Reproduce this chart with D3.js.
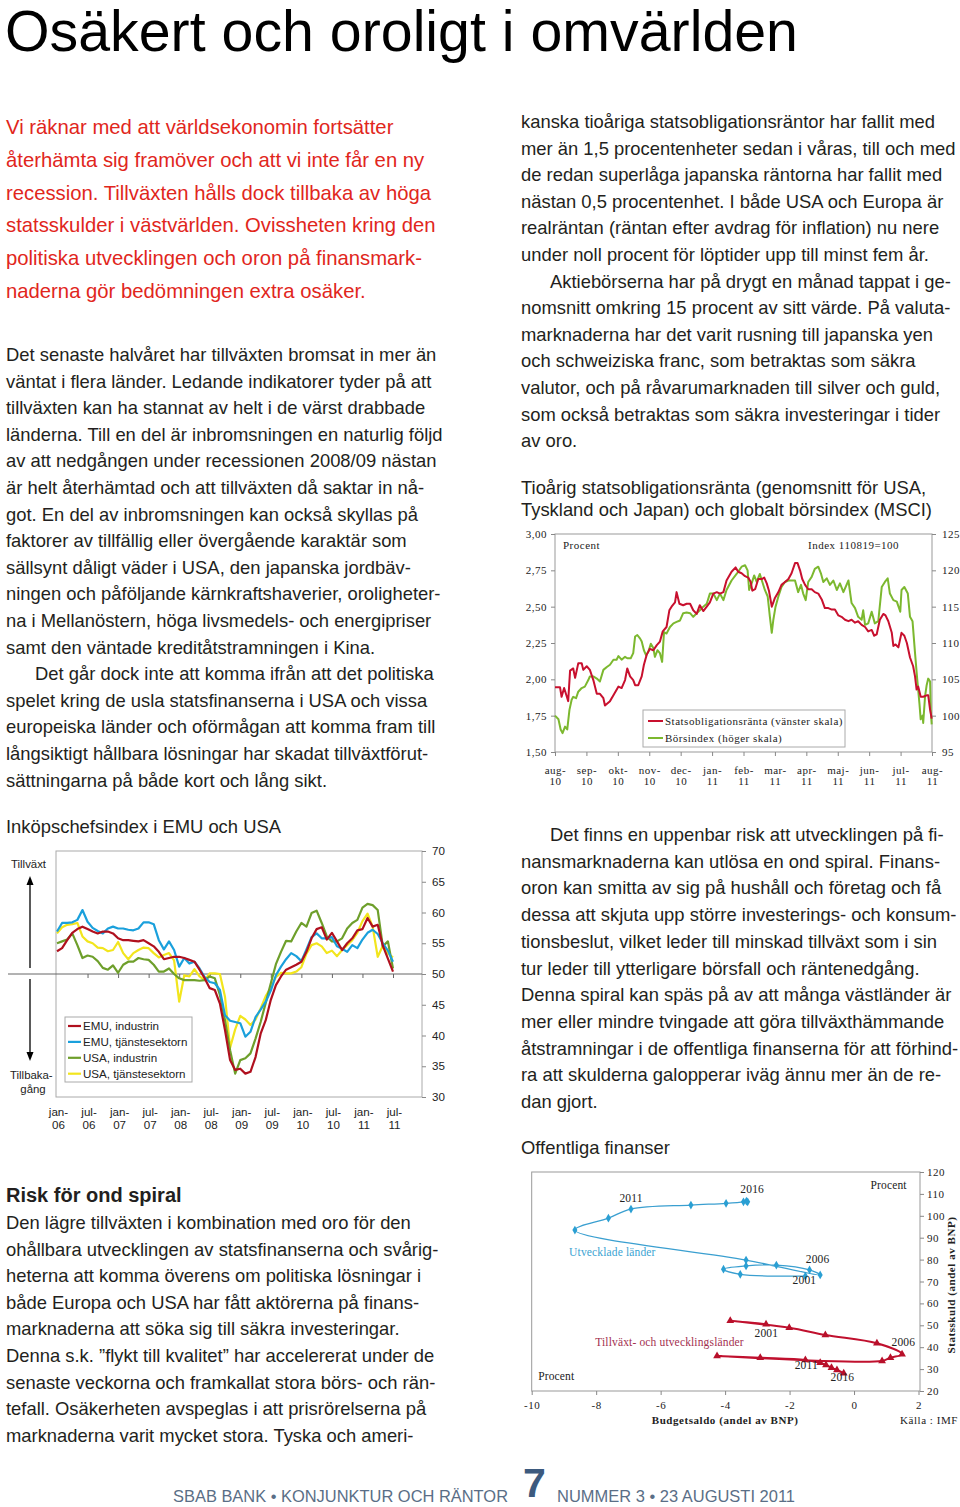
<!DOCTYPE html>
<html><head><meta charset="utf-8">
<script src="https://cdn.jsdelivr.net/npm/d3@7"></script>
<style>body{margin:0;background:#fff}svg{display:block}</style>
</head><body><svg id="c" width="960" height="1507"></svg>
<script>
// ---------------- TEXT ----------------
const pageTitle = "Osäkert och oroligt i omvärlden";
const introLines = [
"Vi räknar med att världsekonomin fortsätter",
"återhämta sig framöver och att vi inte får en ny",
"recession. Tillväxten hålls dock tillbaka av höga",
"statsskulder i västvärlden. Ovissheten kring den",
"politiska utvecklingen och oron på finansmark-",
"naderna gör bedömningen extra osäker."];
const bodyLeft1 = [
"Det senaste halvåret har tillväxten bromsat in mer än",
"väntat i flera länder. Ledande indikatorer tyder på att",
"tillväxten kan ha stannat av helt i de värst drabbade",
"länderna. Till en del är inbromsningen en naturlig följd",
"av att nedgången under recessionen 2008/09 nästan",
"är helt återhämtad och att tillväxten då saktar in nå-",
"got. En del av inbromsningen kan också skyllas på",
"faktorer av tillfällig eller övergående karaktär som",
"sällsynt dåligt väder i USA, den japanska jordbäv-",
"ningen och påföljande kärnkraftshaverier, oroligheter-",
"na i Mellanöstern, höga livsmedels- och energipriser",
"samt den väntade kreditåtstramningen i Kina.",
"\tDet går dock inte att komma ifrån att det politiska",
"spelet kring de usla statsfinanserna i USA och vissa",
"europeiska länder och oförmågan att komma fram till",
"långsiktigt hållbara lösningar har skadat tillväxtförut-",
"sättningarna på både kort och lång sikt."];
const bodyRight1 = [
"kanska tioåriga statsobligationsräntor har fallit med",
"mer än 1,5 procentenheter sedan i våras, till och med",
"de redan superlåga japanska räntorna har fallit med",
"nästan 0,5 procentenhet. I både USA och Europa är",
"realräntan (räntan efter avdrag för inflation) nu nere",
"under noll procent för löptider upp till minst fem år.",
"\tAktiebörserna har på drygt en månad tappat i ge-",
"nomsnitt omkring 15 procent av sitt värde. På valuta-",
"marknaderna har det varit rusning till japanska yen",
"och schweiziska franc, som betraktas som säkra",
"valutor, och på råvarumarknaden till silver och guld,",
"som också betraktas som säkra investeringar i tider",
"av oro."];
const bodyRight2 = [
"\tDet finns en uppenbar risk att utvecklingen på fi-",
"nansmarknaderna kan utlösa en ond spiral. Finans-",
"oron kan smitta av sig på hushåll och företag och få",
"dessa att skjuta upp större investerings- och konsum-",
"tionsbeslut, vilket leder till minskad tillväxt som i sin",
"tur leder till ytterligare börsfall och räntenedgång.",
"Denna spiral kan späs på av att många västländer är",
"mer eller mindre tvingade att göra tillväxthämmande",
"åtstramningar i de offentliga finanserna för att förhind-",
"ra att skulderna galopperar iväg ännu mer än de re-",
"dan gjort."];
const riskHeading = "Risk för ond spiral";
const bodyLeft2 = [
"Den lägre tillväxten i kombination med oro för den",
"ohållbara utvecklingen av statsfinanserna och svårig-",
"heterna att komma överens om politiska lösningar i",
"både Europa och USA har fått aktörerna på finans-",
"marknaderna att söka sig till säkra investeringar.",
"Denna s.k. ”flykt till kvalitet” har accelererat under de",
"senaste veckorna och framkallat stora börs- och rän-",
"tefall. Osäkerheten avspeglas i att prisrörelserna på",
"marknaderna varit mycket stora. Tyska och ameri-"];
const footerLeft = "SBAB BANK • KONJUNKTUR OCH RÄNTOR";
const footerNum = "7";
const footerRight = "NUMMER 3 • 23 AUGUSTI 2011";

// ---------------- CHART 1 DATA (months since aug-10) ----------------
const c1Title = ["Tioårig statsobligationsränta (genomsnitt för USA,", "Tyskland och Japan) och globalt börsindex (MSCI)"];
const c1MonthLabels = ["aug-10","sep-10","okt-10","nov-10","dec-10","jan-11","feb-11","mar-11","apr-11","maj-11","jun-11","jul-11","aug-11"];
const c1LeftTicks = [1.5,1.75,2,2.25,2.5,2.75,3];
const c1RightTicks = [95,100,105,110,115,120,125];
const c1Legend = ["Statsobligationsränta (vänster skala)","Börsindex (höger skala)"];
const rateT = [0,0.16,0.21,0.29,0.37,0.42,0.48,0.58,0.64,0.74,0.85,0.90,1.01,1.11,1.22,1.33,1.43,1.54,1.59,1.75,1.86,2.02,2.12,2.23,2.30,2.39,2.49,2.55,2.65,2.76,2.83,2.92,3.02,3.13,3.24,3.34,3.43,3.55,3.64,3.71,3.82,3.87,3.96,4.08,4.19,4.30,4.40,4.51,4.61,4.72,4.83,4.93,5.04,5.15,5.25,5.36,5.46,5.62,5.75,5.83,5.94,6.05,6.15,6.23,6.28,6.37,6.47,6.58,6.66,6.74,6.81,6.90,6.95,7.00,7.11,7.21,7.32,7.43,7.53,7.64,7.72,7.80,7.87,7.96,8.06,8.17,8.27,8.38,8.49,8.59,8.70,8.81,8.91,9.02,9.12,9.23,9.34,9.44,9.55,9.65,9.76,9.87,9.97,10.08,10.16,10.24,10.34,10.45,10.52,10.61,10.72,10.77,10.84,10.93,11.03,11.12,11.20,11.30,11.40,11.46,11.51,11.56,11.64,11.72,11.83,11.88,11.94,11.99];
const rateV = [1.945,1.945,1.88,1.94,1.885,1.85,2.06,2.075,2.01,2.11,2.11,2.065,2.09,2.065,1.995,1.90,1.90,1.87,1.82,1.85,1.89,1.95,1.94,1.995,2.075,2.02,1.995,1.96,1.96,2.02,2.10,2.17,2.21,2.20,2.235,2.26,2.33,2.36,2.475,2.50,2.53,2.60,2.52,2.51,2.52,2.52,2.475,2.45,2.51,2.47,2.50,2.53,2.59,2.60,2.59,2.60,2.68,2.74,2.77,2.74,2.73,2.71,2.70,2.67,2.61,2.62,2.69,2.69,2.70,2.66,2.61,2.50,2.53,2.56,2.60,2.65,2.67,2.69,2.73,2.80,2.80,2.75,2.69,2.65,2.62,2.62,2.60,2.59,2.55,2.49,2.49,2.48,2.48,2.44,2.43,2.41,2.40,2.41,2.39,2.40,2.375,2.36,2.33,2.34,2.30,2.31,2.41,2.45,2.44,2.40,2.32,2.23,2.24,2.22,2.32,2.30,2.25,2.15,2.09,2.02,1.93,1.95,1.88,1.88,1.89,1.89,1.79,1.73];
const msciT = [0,0.11,0.18,0.24,0.32,0.39,0.46,0.53,0.58,0.67,0.74,0.85,0.95,1.06,1.11,1.22,1.33,1.43,1.54,1.65,1.75,1.86,1.96,2.02,2.12,2.23,2.30,2.41,2.49,2.55,2.62,2.71,2.76,2.83,2.90,2.97,3.05,3.13,3.18,3.26,3.34,3.41,3.47,3.55,3.66,3.77,3.87,3.98,4.08,4.19,4.30,4.40,4.51,4.61,4.72,4.83,4.93,5.04,5.15,5.25,5.36,5.46,5.62,5.78,5.94,6.05,6.13,6.18,6.26,6.34,6.42,6.52,6.60,6.68,6.77,6.84,6.90,6.95,7.02,7.11,7.21,7.32,7.43,7.53,7.64,7.74,7.83,7.90,7.98,8.06,8.17,8.27,8.38,8.47,8.54,8.65,8.75,8.86,8.97,9.07,9.18,9.34,9.44,9.55,9.65,9.76,9.81,9.87,9.97,10.08,10.18,10.29,10.40,10.50,10.59,10.66,10.77,10.88,10.99,11.03,11.12,11.23,11.30,11.38,11.46,11.53,11.60,11.64,11.70,11.72,11.78,11.83,11.88,11.94,11.96,11.99];
const msciV = [100,99.5,98.1,97.6,98.5,98.1,100.8,102.2,102.6,102.4,103.3,103.8,104.0,104.9,105.4,105.4,105.1,104.7,106.3,106.7,107.0,107.7,107.7,108.2,107.7,108.1,107.9,107.9,108.6,110.9,111.1,110.6,110.2,109.0,108.3,108.8,109.9,109.3,108.1,109.0,108.6,107.4,111.5,111.3,112.2,112.7,112.9,113.1,114.1,114.2,114.1,113.6,114.1,114.5,115.0,115.4,116.8,116.8,115.9,116.8,115.9,117.3,118.6,119.5,120.5,120.7,120.0,117.3,118.2,119.3,118.4,119.5,118.4,117.3,116.4,113.6,111.4,113.2,115.0,116.4,117.7,118.4,118.6,118.6,118.6,117.0,118.0,116.8,115.9,118.4,119.1,120.2,120.5,119.5,118.4,118.9,118.0,118.6,117.3,118.2,117.0,118.6,115.5,114.8,113.6,113.2,114.5,112.5,112.7,114.3,112.7,113.0,117.7,118.4,118.9,116.8,115.9,115.7,114.3,117.3,117.7,116.8,113.6,113.0,108.6,105.0,101.7,99.5,100.0,99.0,102.7,104.2,105.1,104.7,100.8,98.8];

// ---------------- CHART 2 DATA (monthly, jan-06 .. jul-11) ----------------
const c2Title = "Inköpschefsindex i EMU och USA";
const c2Labels = ["jan-06","jul-06","jan-07","jul-07","jan-08","jul-08","jan-09","jul-09","jan-10","jul-10","jan-11","jul-11"];
const c2Ticks = [30,35,40,45,50,55,60,65,70];
const c2Legend = ["EMU, industrin","EMU, tjänstesektorn","USA, industrin","USA, tjänstesektorn"];
const emuInd = [53.7,54.2,55.5,56.7,57.3,57.7,57.3,56.9,56.6,56.9,56.9,56.6,55.8,55.5,55.5,55.4,55.3,55.5,55.0,54.5,53.6,52.4,52.6,52.8,52.8,52.6,52.3,52.0,50.7,49.3,47.7,47.4,45.2,40.9,36.0,34.4,34.6,33.8,34.1,36.5,40.3,42.5,45.8,48.2,49.6,50.7,51.1,51.5,52.0,53.6,55.8,57.3,57.6,55.6,56.7,55.3,53.9,55.0,55.8,57.1,57.3,59.1,57.7,58.0,54.6,52.5,50.4];
const emuServ = [56.9,58.3,58.3,58.4,58.8,60.4,58.5,57.5,57.0,56.6,57.4,57.7,57.4,57.4,57.2,57.1,57.4,58.4,58.4,58.1,55.5,54.0,55.3,53.9,51.2,52.6,51.7,52.0,50.9,49.5,48.7,48.5,47.4,43.3,42.4,42.2,42.0,39.8,40.6,43.0,44.2,45.5,47.3,49.8,51.2,52.4,53.4,52.9,52.1,54.0,56.0,56.6,55.8,55.8,56.0,54.5,54.1,53.6,54.7,54.2,55.6,56.7,57.2,56.5,55.0,53.8,52.0];
const usaInd = [55.0,55.3,55.6,56.6,54.7,52.6,53.0,52.8,52.1,51.0,50.7,51.4,50.2,51.5,52.0,52.0,52.6,52.4,52.3,51.5,50.4,50.4,50.9,50.0,49.3,49.0,49.0,49.0,48.9,49.0,49.6,49.3,46.6,42.5,37.6,33.8,36.0,36.3,37.1,39.5,42.2,45.3,48.5,51.6,53.6,55.4,55.3,56.9,58.3,57.7,59.9,60.3,58.3,56.1,55.3,55.3,55.8,57.4,58.3,58.8,60.8,61.4,61.2,60.4,54.5,55.3,50.9];
const usaServ = [56.6,57.6,58.0,58.1,58.3,56.1,55.3,55.0,54.3,54.2,53.7,53.9,55.2,53.4,52.4,53.4,53.9,54.3,54.2,53.4,52.7,53.1,53.4,52.2,45.5,49.8,49.6,50.8,49.6,49.0,50.1,50.1,50.0,46.3,38.0,41.0,43.2,42.6,41.7,42.6,44.4,46.4,47.8,49.5,50.2,50.1,50.1,50.4,51.1,53.3,54.7,55.0,54.5,53.4,53.8,52.9,53.9,54.7,55.5,56.7,58.6,59.8,57.7,52.8,54.6,53.3,52.7];

// ---------------- CHART 3 DATA (IMF, 2001-2016) ----------------
const c3Title = "Offentliga finanser";
const c3Years = d3.range(2001, 2017);
const devBudget = [-1.51,-3.53,-4.05,-3.35,-2.41,-1.38,-1.05,-3.35,-8.66,-7.62,-6.92,-5.06,-3.97,-3.43,-3.34,-3.30];
const devDebt   = [72.5,73.3,75.6,77.1,77.5,75.3,73.0,79.8,93.5,98.9,103.1,104.9,105.7,106.4,106.7,106.4];
const emBudget  = [-2.73,-3.84,-2.01,-0.89,0.71,1.49,1.13,0.87,-4.25,-2.91,-1.51,-1.05,-0.87,-0.70,-0.53,-0.32];
const emDebt    = [50.5,52.1,48.9,45.6,41.8,36.8,35.2,33.7,36.0,35.2,34.2,32.9,31.9,30.6,29.6,28.1];
const c3XTicks = [-10,-8,-6,-4,-2,0,2];
const c3YTicks = [20,30,40,50,60,70,80,90,100,110,120];
// annotations in data units [budget, debt]
const c3Notes = [
  {t:"2001",b:-1.54,d:68.9,c:"#222",a:"middle"},
  {t:"2006",b:-1.13,d:78.4,c:"#222",a:"middle"},
  {t:"2011",b:-6.92,d:106.3,c:"#222",a:"middle"},
  {t:"2016",b:-3.16,d:110.4,c:"#222",a:"middle"},
  {t:"2001",b:-2.72,d:44.7,c:"#222",a:"middle"},
  {t:"2006",b:1.53,d:40.5,c:"#222",a:"middle"},
  {t:"2011",b:-1.48,d:30.0,c:"#222",a:"middle"},
  {t:"2016",b:-0.36,d:24.6,c:"#222",a:"middle"},
  {t:"Utvecklade länder",b:-8.84,d:81.6,c:"#3aa3d2",a:"start"},
  {t:"Tillväxt- och utvecklingsländer",b:-8.03,d:40.5,c:"#a3304f",a:"start"},
  {t:"Procent",b:-9.80,d:25.0,c:"#222",a:"start"},
  {t:"Procent",b:0.51,d:112.2,c:"#222",a:"start"}
];

// ---------------- DRAW ----------------
const svg = d3.select("#c");
svg.append("rect").attr("width",960).attr("height",1507).attr("fill","#fff");
const SANS = "'Liberation Sans', Arial, sans-serif";
const SERIF = "'Liberation Serif', 'Times New Roman', serif";
const TXT = "#231f20";

function block(arr, x, y0, dy, size, color) {
  const g = svg.append("g").attr("font-family", SANS).attr("font-size", size).attr("fill", color);
  arr.forEach((s, i) => {
    let xx = x;
    if (s.startsWith("\t")) { s = s.slice(1); xx = x + 29; }
    g.append("text").attr("x", xx).attr("y", y0 + i * dy).text(s);
  });
}

svg.append("text").attr("x",5).attr("y",51).attr("font-family",SANS).attr("font-size",56.5).attr("fill","#000")
  .attr("textLength",793).attr("lengthAdjust","spacingAndGlyphs").text(pageTitle);
block(introLines, 6, 134, 32.8, 20.3, "#e1261c");
block(bodyLeft1, 6, 361, 26.6, 18.4, TXT);
block(bodyRight1, 521, 128, 26.6, 18.4, TXT);
block(bodyRight2, 521, 841, 26.7, 18.4, TXT);
svg.append("text").attr("x",6).attr("y",1202).attr("font-family",SANS).attr("font-size",20).attr("font-weight","bold").attr("fill",TXT).text(riskHeading);
block(bodyLeft2, 6, 1229, 26.6, 18.4, TXT);
block(c1Title, 521, 494, 22, 18.4, TXT);
block([c2Title], 6, 833, 0, 18.4, TXT);
block([c3Title], 521, 1154, 0, 18.4, TXT);

// footer
const FC = "#5a6e86";
svg.append("text").attr("x",173).attr("y",1502).attr("font-family",SANS).attr("font-size",16.5).attr("fill",FC)
  .attr("textLength",335).attr("lengthAdjust","spacingAndGlyphs").text(footerLeft);
svg.append("text").attr("x",523).attr("y",1497).attr("font-family",SANS).attr("font-size",41).attr("font-weight","bold").attr("fill","#3d5a7e").text(footerNum);
svg.append("text").attr("x",557).attr("y",1502).attr("font-family",SANS).attr("font-size",16.5).attr("fill",FC)
  .attr("textLength",238).attr("lengthAdjust","spacingAndGlyphs").text(footerRight);

function styleAxis(sel, family, size, ls) {
  sel.attr("font-family", family).attr("font-size", size);
  sel.selectAll("text").attr("fill", "#222").attr("letter-spacing", ls || 0);
  sel.selectAll("line").attr("stroke", "#888");
  sel.select(".domain").remove();
}

// ===== CHART 1 =====
{
  const x = d3.scaleLinear().domain([0,12]).range([555,932]);
  const yL = d3.scaleLinear().domain([1.5,3]).range([752,534]);
  const yR = d3.scaleLinear().domain([95,125]).range([752,534]);
  const g = svg.append("g");
  const fmt = d3.formatLocale({decimal:",",thousands:" ",grouping:[3],currency:["",""]}).format(".2f");
  g.append("rect").attr("x",x(0)).attr("y",yL(3)).attr("width",x(12)-x(0)).attr("height",yL(1.5)-yL(3))
    .attr("fill","none").attr("stroke","#999");
  const la = g.append("g").attr("transform",`translate(${x(0)},0)`)
    .call(d3.axisLeft(yL).tickValues(c1LeftTicks).tickSize(4).tickPadding(4).tickFormat(fmt));
  styleAxis(la, SERIF, 11, 0.5);
  const ra = g.append("g").attr("transform",`translate(${x(12)},0)`)
    .call(d3.axisRight(yR).tickValues(c1RightTicks).tickSize(4).tickPadding(6));
  styleAxis(ra, SERIF, 11, 0.5);
  const ba = g.append("g").attr("transform",`translate(0,${yL(1.5)})`)
    .call(d3.axisBottom(x).tickValues(d3.range(c1MonthLabels.length)).tickSize(4).tickFormat(""));
  styleAxis(ba, SERIF, 11, 0.5);
  ba.selectAll(".tick text").each(function(d){
    const p = c1MonthLabels[d].split("-");
    const t = d3.select(this).attr("dy",null).attr("y",null);
    t.append("tspan").attr("x",0).attr("y",22).text(p[0]+"-");
    t.append("tspan").attr("x",0).attr("y",32.5).text(p[1]);
  });
  const rate = rateT.map((t,i)=>[t,rateV[i]]);
  const msci = msciT.map((t,i)=>[t,msciV[i]]);
  g.append("path").datum(msci).attr("fill","none").attr("stroke","#7cb82f").attr("stroke-width",2)
    .attr("stroke-linejoin","round").attr("d", d3.line().x(d=>x(d[0])).y(d=>yR(d[1])));
  g.append("path").datum(rate).attr("fill","none").attr("stroke","#c8102e").attr("stroke-width",2)
    .attr("stroke-linejoin","round").attr("d", d3.line().x(d=>x(d[0])).y(d=>yL(d[1])));
  g.append("rect").attr("x",643).attr("y",710).attr("width",202).attr("height",37).attr("fill","#fff").attr("stroke","#aaa");
  const tg = g.append("g").attr("font-family",SERIF).attr("font-size",11).attr("letter-spacing",0.5).attr("fill","#222");
  tg.append("text").attr("x",563).attr("y",549).text("Procent");
  tg.append("text").attr("x",808).attr("y",549).text("Index 110819=100");
  const lc = ["#c8102e","#7cb82f"];
  c1Legend.forEach((s,i)=>{
    const yy = 721 + i*17;
    g.append("line").attr("x1",648).attr("x2",663).attr("y1",yy).attr("y2",yy).attr("stroke",lc[i]).attr("stroke-width",2);
    tg.append("text").attr("x",665).attr("y",yy+4).text(s);
  });
}

// ===== CHART 2 =====
{
  const x = d3.scaleLinear().domain([0,66]).range([57,393]);
  const y = d3.scaleLinear().domain([30,70]).range([1097,851]);
  const g = svg.append("g");
  g.append("rect").attr("x",56).attr("y",y(70)).attr("width",422-56).attr("height",y(30)-y(70))
    .attr("fill","none").attr("stroke","#aaa");
  const ra = g.append("g").attr("transform","translate(422,0)")
    .call(d3.axisRight(y).tickValues(c2Ticks).tickSize(4).tickPadding(6));
  styleAxis(ra, SANS, 11.6);
  g.append("line").attr("x1",8).attr("x2",422).attr("y1",y(50)).attr("y2",y(50)).attr("stroke","#666").attr("stroke-width",1);
  const tk = g.append("g").attr("transform",`translate(0,${y(50)})`)
    .call(d3.axisBottom(x).tickValues(d3.range(6,67,6)).tickSize(4).tickFormat(""));
  styleAxis(tk, SANS, 11.6);
  tk.selectAll("line").attr("stroke","#666");
  const ba = g.append("g").attr("transform",`translate(0,${y(30)})`)
    .call(d3.axisBottom(x).tickValues(d3.range(0,67,6)).tickSize(0).tickFormat(""));
  styleAxis(ba, SANS, 11.6);
  ba.selectAll(".tick text").each(function(d){
    const p = c2Labels[d/6].split("-");
    const t = d3.select(this).attr("dy",null).attr("y",null);
    t.append("tspan").attr("x",1).attr("y",19).text(p[0]+"-");
    t.append("tspan").attr("x",1).attr("y",31.5).text(p[1]);
  });
  const series = [emuInd, emuServ, usaInd, usaServ];
  const cols = ["#b0101e","#1aa0dc","#6e9f2b","#f2e51d"];
  const line = d3.line().x((d,i)=>x(i)).y(d=>y(d));
  [3,2,1,0].forEach(k=>{
    g.append("path").datum(series[k]).attr("fill","none").attr("stroke",cols[k]).attr("stroke-width",2.2)
      .attr("stroke-linejoin","round").attr("d", line);
  });
  g.append("line").attr("x1",30).attr("x2",30).attr("y1",884).attr("y2",968).attr("stroke","#000").attr("stroke-width",1.3);
  g.append("path").attr("d","M30,876 L26.5,885 L33.5,885 Z").attr("fill","#000");
  g.append("line").attr("x1",30).attr("x2",30).attr("y1",979).attr("y2",1053).attr("stroke","#000").attr("stroke-width",1.3);
  g.append("path").attr("d","M30,1061 L26.5,1052 L33.5,1052 Z").attr("fill","#000");
  const tg = g.append("g").attr("font-family",SANS).attr("font-size",11.4).attr("fill","#222");
  tg.append("text").attr("x",11).attr("y",868).text("Tillväxt");
  tg.append("text").attr("x",10).attr("y",1079).text("Tillbaka-");
  tg.append("text").attr("x",33).attr("y",1093).attr("text-anchor","middle").text("gång");
  g.append("rect").attr("x",65).attr("y",1017).attr("width",127).attr("height",65).attr("fill","#fff").attr("stroke","#aaa");
  c2Legend.forEach((s,i)=>{
    const yy = 1026 + i*15.9;
    g.append("line").attr("x1",68).attr("x2",81).attr("y1",yy).attr("y2",yy).attr("stroke",cols[i]).attr("stroke-width",2.2);
    g.append("text").attr("x",83).attr("y",yy+4).attr("font-family",SANS).attr("font-size",11.6).attr("fill","#222").text(s);
  });
}

// ===== CHART 3 =====
{
  const x = d3.scaleLinear().domain([-10,2]).range([531.7,918.5]);
  const y = d3.scaleLinear().domain([20,120]).range([1391,1172]);
  const g = svg.append("g");
  g.append("rect").attr("x",x(-10)).attr("y",y(120)).attr("width",920-x(-10)).attr("height",y(20)-y(120))
    .attr("fill","none").attr("stroke","#999");
  const ra = g.append("g").attr("transform","translate(920,0)")
    .call(d3.axisRight(y).tickValues(c3YTicks).tickSize(4).tickPadding(3));
  styleAxis(ra, SERIF, 11, 0.5);
  const ba = g.append("g").attr("transform",`translate(0,${y(20)})`)
    .call(d3.axisBottom(x).tickValues(c3XTicks).tickSize(4).tickPadding(6).tickFormat(d=>String(d)));
  styleAxis(ba, SERIF, 11, 0.5);
  const line = d3.line().x(d=>x(d[0])).y(d=>y(d[1])).curve(d3.curveCatmullRom.alpha(0.5));
  const dev = devBudget.map((b,i)=>[b,devDebt[i]]);
  const em = emBudget.map((b,i)=>[b,emDebt[i]]);
  g.append("path").datum(dev).attr("fill","none").attr("stroke","#3a9fd0").attr("stroke-width",1.3).attr("d",line);
  g.selectAll(".dm").data(dev).join("path").attr("transform",d=>`translate(${x(d[0])},${y(d[1])})`)
    .attr("d", d3.symbol(d3.symbolDiamond).size(22)).attr("fill","#2a9fd3");
  g.append("path").datum(em).attr("fill","none").attr("stroke","#c0102e").attr("stroke-width",2).attr("d",line);
  g.selectAll(".tm").data(em).join("path").attr("transform",d=>`translate(${x(d[0])},${y(d[1])})`)
    .attr("d", d3.symbol(d3.symbolTriangle).size(26)).attr("fill","#b8102a");
  const tg = g.append("g").attr("font-family",SERIF).attr("font-size",11.5).attr("letter-spacing",0.15);
  c3Notes.forEach(n=>{
    tg.append("text").attr("x",x(n.b)).attr("y",y(n.d)).attr("text-anchor",n.a).attr("fill",n.c).text(n.t);
  });
  const bt = g.append("g").attr("font-family",SERIF).attr("font-size",11).attr("letter-spacing",0.55).attr("fill","#222");
  bt.append("text").attr("x",(x(-10)+x(2))/2).attr("y",1424).attr("text-anchor","middle").attr("font-weight","bold").text("Budgetsaldo (andel av BNP)");
  bt.append("text").attr("x",900).attr("y",1424).text("Källa : IMF");
  bt.append("text").attr("transform","translate(955,1285) rotate(-90)").attr("text-anchor","middle").attr("font-weight","bold").text("Statsskuld (andel av BNP)");
}
</script></body></html>
